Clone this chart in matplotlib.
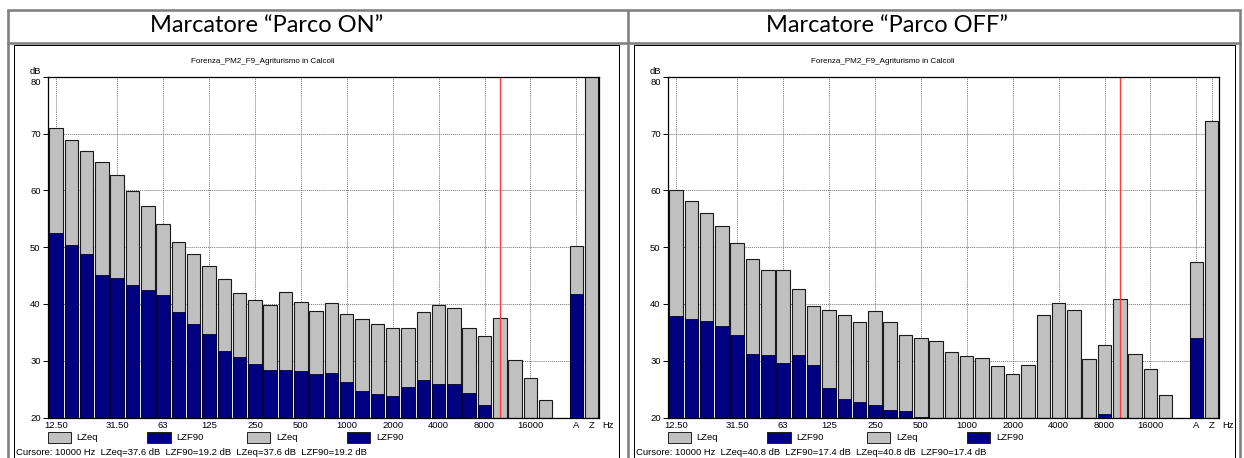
import numpy as np
import matplotlib
matplotlib.use("Agg")
import matplotlib.pyplot as plt
from matplotlib.patches import Rectangle
from matplotlib.transforms import ScaledTranslation

# 1/3-octave bands 12.5 Hz .. 20 kHz, a blank separator slot, then A and Z totals
bands = ["12.5", "16", "20", "25", "31.5", "40", "50", "63", "80", "100",
         "125", "160", "200", "250", "315", "400", "500", "630", "800", "1000",
         "1250", "1600", "2000", "2500", "3150", "4000", "5000", "6300", "8000",
         "10000", "12500", "16000", "20000", "", "A", "Z"]

tick_slots = [0, 4, 7, 10, 13, 16, 19, 22, 25, 28, 31, 34, 35]
tick_labels = ["12.50", "31.50", "63", "125", "250", "500", "1000", "2000",
               "4000", "8000", "16000", "A", "Z"]

cursor_band = "10000"

nan = np.nan

# Marcatore "Parco ON"
on_lzeq = [70.9, 68.9, 67.0, 64.9, 62.7, 59.9, 57.2, 54.1, 50.9, 48.7,
           46.7, 44.3, 42.0, 40.6, 39.8, 42.1, 40.3, 38.8, 40.1, 38.2,
           37.3, 36.4, 35.7, 35.8, 38.5, 39.8, 39.2, 35.8, 34.3, 37.6,
           30.2, 27.0, 23.1, 20.0, 50.2, 81.0]
on_lzf90 = [52.5, 50.4, 48.8, 45.1, 44.5, 43.3, 42.4, 41.5, 38.6, 36.5,
            34.7, 31.7, 30.6, 29.4, 28.3, 28.3, 28.2, 27.6, 27.9, 26.3,
            24.7, 24.2, 23.8, 25.4, 26.6, 25.9, 25.9, 24.3, 22.2, 19.2,
            nan, nan, nan, nan, 41.7, nan]

# Marcatore "Parco OFF"
off_lzeq = [60.0, 58.2, 56.0, 53.8, 50.8, 47.9, 46.0, 45.9, 42.7, 39.6,
            39.0, 38.0, 36.8, 38.7, 36.9, 34.6, 34.0, 33.4, 31.6, 30.9,
            30.5, 29.0, 27.6, 29.3, 38.0, 40.2, 39.0, 30.3, 32.7, 40.8,
            31.1, 28.6, 24.0, 20.0, 47.3, 72.2]
off_lzf90 = [37.9, 37.3, 37.0, 36.1, 34.5, 31.2, 31.0, 29.6, 31.0, 29.2,
             25.2, 23.3, 22.7, 22.2, 21.3, 21.1, 20.1, nan, nan, nan,
             nan, nan, nan, nan, nan, nan, nan, nan, 20.6, 17.4,
             nan, nan, nan, nan, 34.0, nan]

panels = [
    ("Marcatore \u201cParco ON\u201d", on_lzeq, on_lzf90),
    ("Marcatore \u201cParco OFF\u201d", off_lzeq, off_lzf90),
]

subtitle = "Forenza_PM2_F9_Agriturismo in Calcoli"
series_names = ["LZeq", "LZF90", "LZeq", "LZF90"]

GRAY = "#c0c0c0"
NAVY = "#000080"
FRAME = "#808080"
SMALL = 6.8
plt.rcParams["font.family"] = ["Liberation Sans", "DejaVu Sans"]

W, H = 1244, 458
fig = plt.figure(figsize=(W / 100, H / 100), dpi=100)

# page layer in pixel coordinates: table frame, headings, legends, footers
page = fig.add_axes([0, 0, 1, 1])
page.set_xlim(0, W)
page.set_ylim(H, 0)
page.axis("off")

lw_frame = 2.6 * 72 / 100
for x in (8, 628, 1240):
    page.plot([x, x], [10, H], color=FRAME, lw=lw_frame, solid_capstyle="butt")
for y in (10, 43):
    page.plot([8, 1240], [y, y], color=FRAME, lw=lw_frame, solid_capstyle="projecting")
lw_img = 1 * 72 / 100
for x0, x1 in ((14, 619), (634, 1235)):
    page.plot([x0, x0, x1, x1], [H, 44.5, 44.5, H], color="black", lw=lw_img)

ax_left = [48.3, 668.3]
ax_w = 551.0
ax_top, ax_bot = 76.7, 417.5

x = np.arange(len(bands))
cur = bands.index(cursor_band)

for k, (title, lzeq, lzf90) in enumerate(panels):
    off = ax_left[k] - ax_left[0]
    page.text(267 + off, 26, title, ha="center", va="center",
              fontsize=17, family=["Lato", "DejaVu Sans"])
    page.text(263 + off, 61.5, subtitle, ha="center", va="center", fontsize=5.8)
    page.text(35 + off, 71.5, "dB", ha="center", va="center", fontsize=SMALL)
    page.text(608 + off, 426, "Hz", ha="center", va="center", fontsize=SMALL)

    # legend row
    for j, name in enumerate(series_names):
        bx = 47.7 + off + 99.7 * j
        page.add_patch(Rectangle((bx, 431.7), 23.3, 11,
                                 facecolor=GRAY if name == "LZeq" else NAVY,
                                 edgecolor="#202020", lw=0.7))
        page.text(bx + 29, 437.5, name, ha="left", va="center", fontsize=SMALL)

    a = np.array(lzeq)
    b = np.array(lzf90)
    foot = (f"Cursore: {cursor_band} Hz  LZeq={a[cur]:.1f} dB  LZF90={b[cur]:.1f} dB  "
            f"LZeq={a[cur]:.1f} dB  LZF90={b[cur]:.1f} dB")
    page.text(16 + off, 452.5, foot, ha="left", va="center", fontsize=SMALL)

    ax = fig.add_axes([ax_left[k] / W, 1 - ax_bot / H, ax_w / W, (ax_bot - ax_top) / H])
    ax.set_xlim(-0.5, len(bands) - 0.5)
    ax.set_ylim(20, 80)
    ax.set_axisbelow(True)

    ax.bar(x, a - 20, bottom=20, width=0.88, color=GRAY, edgecolor="#1a1a1a",
           lw=0.8, zorder=2)
    ax.bar(x, b - 20, bottom=20, width=0.88, color=NAVY, edgecolor="#000030",
           lw=0.6, zorder=3)
    ax.axvline(cur, color="#ff3b3b", lw=1.0, zorder=4)

    ax.set_xticks(tick_slots)
    ax.set_xticklabels(tick_labels, fontsize=SMALL)
    ax.set_yticks(np.arange(20, 81, 10))
    ax.set_yticklabels([str(v) for v in range(20, 81, 10)], fontsize=SMALL)
    ax.tick_params(axis="x", length=0, pad=2.5)
    ax.tick_params(axis="y", length=3.5, width=0.7, pad=2)
    lab80 = ax.get_yticklabels()[-1]
    lab80.set_transform(lab80.get_transform() +
                        ScaledTranslation(0, -5 / 100, fig.dpi_scale_trans))
    ax.grid(True, color="#777777", lw=0.7, linestyle=(0, (1, 1)))
    for s in ax.spines.values():
        s.set_linewidth(0.9)
        s.set_color("black")
        s.set_zorder(5)

fig.savefig("out.png", dpi=100)
